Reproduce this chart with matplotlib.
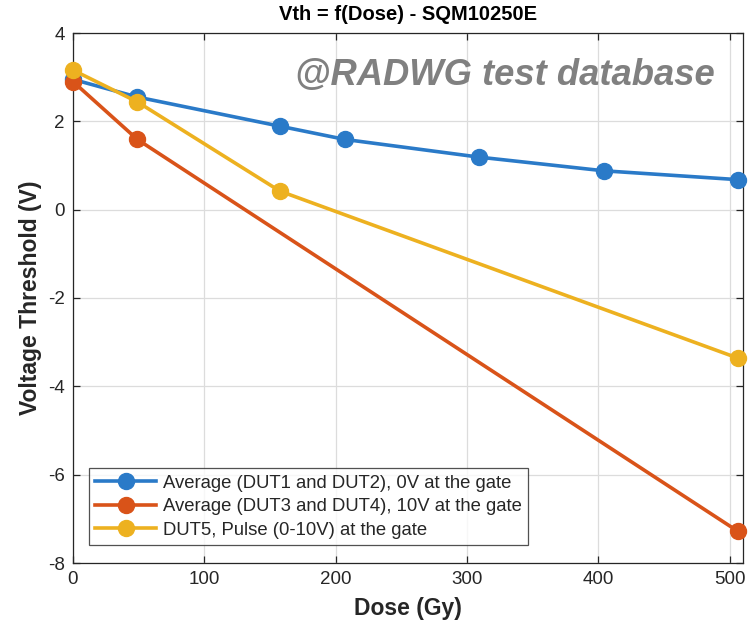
import matplotlib
matplotlib.use("Agg")
import matplotlib.pyplot as plt

plt.rcParams['font.family'] = ['Liberation Sans', 'DejaVu Sans']
plt.rcParams['axes.unicode_minus'] = False

dose_avg12 = [0, 49, 157.5, 207, 309, 404, 506]
vth_avg12 = [2.95, 2.55, 1.89, 1.59, 1.19, 0.88, 0.68]

dose_avg34 = [0, 49, 506]
vth_avg34 = [2.90, 1.59, -7.28]

dose_dut5 = [0, 49, 157.5, 506]
vth_dut5 = [3.16, 2.44, 0.42, -3.36]

labels = ["Average (DUT1 and DUT2), 0V at the gate",
          "Average (DUT3 and DUT4), 10V at the gate",
          "DUT5, Pulse (0-10V) at the gate"]
colors = ["#2a7ac8", "#d95319", "#edb120"]

xticks = [0, 100, 200, 300, 400, 500]
yticks = [-8, -6, -4, -2, 0, 2, 4]

fig = plt.figure(figsize=(7.51, 6.31), dpi=100)
ax = fig.add_axes([73/751, 1-563/631, (743-73)/751, (563-33)/631])

for xs, ys, c, lab in zip([dose_avg12, dose_avg34, dose_dut5],
                          [vth_avg12, vth_avg34, vth_dut5], colors, labels):
    ax.plot(xs, ys, '-o', color=c, lw=2.6, ms=11.5, label=lab, clip_on=False, zorder=3)

ax.set_xlim(0, 510)
ax.set_ylim(-8, 4)
ax.set_xticks(xticks)
ax.set_yticks(yticks)
ax.grid(True, color='#dcdcdc', lw=0.9)
ax.set_axisbelow(True)
ax.tick_params(direction='in', top=True, right=True, length=5, width=0.9,
               colors='#262626', labelsize=13.5, labelcolor='#262626', pad=6)
for s in ax.spines.values():
    s.set_color('#262626')
    s.set_linewidth(0.9)

ax.set_xlabel("Dose (Gy)", fontsize=16.5, fontweight='bold', color='#262626', labelpad=6)
ax.set_ylabel("Voltage Threshold (V)", fontsize=16.5, fontweight='bold', color='#262626', labelpad=4)
ax.set_title("Vth = f(Dose) - SQM10250E", fontsize=14.5, fontweight='bold', color='black', pad=9)

fig.text(715/751, 1-85/631, "@RADWG test database", ha='right', va='baseline',
         fontsize=26.2, fontweight='bold', fontstyle='italic', color='#808080')

leg = ax.legend(loc='lower left', bbox_to_anchor=((89-73)/670, (563-545)/530),
                fontsize=13.3, frameon=True, fancybox=False, edgecolor='#262626',
                borderaxespad=0, handlelength=3.3, borderpad=0.35, labelspacing=0.35,
                handletextpad=0.35)
leg.get_frame().set_linewidth(0.9)
for t in leg.get_texts():
    t.set_color('#262626')

fig.savefig("out.png", dpi=100)
